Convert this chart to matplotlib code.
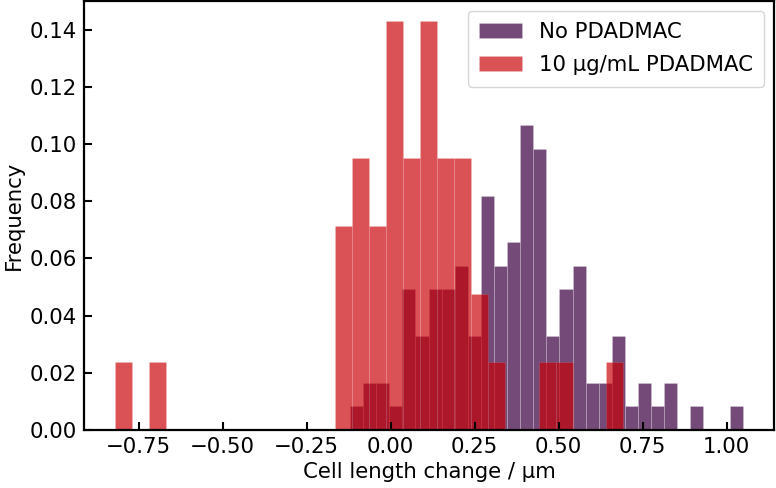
import numpy as np
import matplotlib
matplotlib.use("Agg")
import matplotlib.pyplot as plt

# bin counts (30 bins each, spanning min..max of each series)
no_pdadmac_range = (-0.121, 1.048)
no_pdadmac_counts = [1, 2, 2, 1, 6, 4, 6, 6, 7, 4,
                     10, 7, 8, 13, 12, 4, 6, 7, 2, 2,
                     4, 1, 2, 1, 2, 0, 1, 0, 0, 1]

pdadmac_range = (-0.820, 0.693)
pdadmac_counts = [1, 0, 1, 0, 0, 0, 0, 0, 0, 0,
                  0, 0, 0, 3, 4, 3, 6, 4, 6, 4,
                  4, 2, 1, 0, 0, 1, 1, 0, 0, 1]

labels = ["No PDADMAC", "10 \u00b5g/mL PDADMAC"]
n_bins = 30

fs = 15.3
plt.rcParams["font.size"] = fs

fig = plt.figure(figsize=(7.76, 4.88), dpi=100)
ax = fig.add_axes([0.108, 0.119, 0.8895, 0.879])


def draw(counts, rng, face, edge, label):
    counts = np.array(counts, dtype=float)
    edges = np.linspace(rng[0], rng[1], n_bins + 1)
    centers = (edges[:-1] + edges[1:]) / 2
    ax.hist(centers, bins=edges, weights=counts / counts.sum(),
            facecolor=face, edgecolor=edge, linewidth=0.5, label=label)


draw(no_pdadmac_counts, no_pdadmac_range, "#734a78", (1, 1, 1, 0.25), labels[0])
draw(pdadmac_counts, pdadmac_range, (0.79, 0.0, 0.02, 0.68), (1, 1, 1, 0.15), labels[1])

ax.set_xlabel("Cell length change / \u00b5m", fontsize=fs)
ax.set_ylabel("Frequency", fontsize=fs)
ax.tick_params(direction="in", length=6, width=1.5, labelsize=fs, pad=5)
for s in ax.spines.values():
    s.set_linewidth(1.6)

ax.legend(loc="upper right", fontsize=fs, borderpad=0.55, labelspacing=0.6,
          borderaxespad=0.45)

fig.savefig("out.png", dpi=100)
